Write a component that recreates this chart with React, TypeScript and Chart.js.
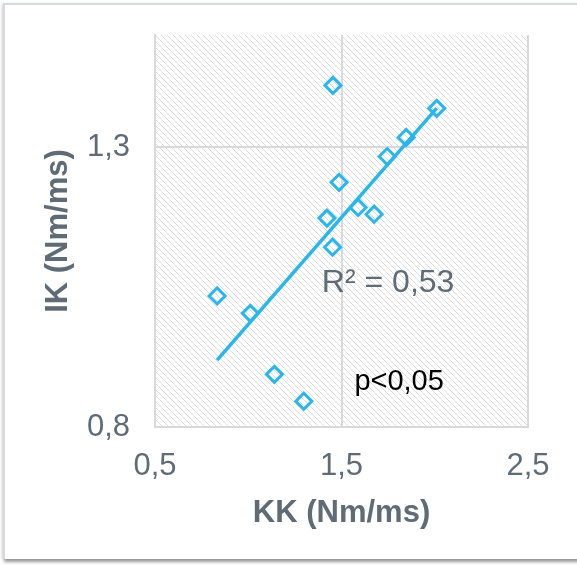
import React, { useEffect, useRef } from "react";
import { Chart, registerables } from "chart.js";
Chart.register(...registerables);

const kk = [1.454, 2.011, 1.847, 1.745, 1.487, 1.589, 1.675, 1.422, 1.452, 0.833, 1.011, 1.14, 1.298];
const ik = [1.41, 1.369, 1.317, 1.283, 1.237, 1.192, 1.18, 1.173, 1.121, 1.034, 1.003, 0.894, 0.846];
const xTicks = [0.5, 1.5, 2.5];
const yTicks = [0.8, 1.3];
const xTitle = "KK (Nm/ms)";
const yTitle = "IK (Nm/ms)";
const r2Label = "R² = 0,53";
const pLabel = "p<0,05";
const r2Pos = { x: 1.75, y: 1.057 };
const pPos = { x: 1.809, y: 0.88 };

const BLUE = "#29b6ea";
const GREY_TEXT = "#5f6b75";
const GRID = "#d9d9d9";
const FONT = "'Liberation Sans', Arial, sans-serif";

function regression(xs: number[], ys: number[]) {
  const n = xs.length;
  const mx = xs.reduce((a, b) => a + b, 0) / n;
  const my = ys.reduce((a, b) => a + b, 0) / n;
  let sxy = 0, sxx = 0;
  for (let i = 0; i < n; i++) {
    sxy += (xs[i] - mx) * (ys[i] - my);
    sxx += (xs[i] - mx) ** 2;
  }
  const b = sxy / sxx;
  return { a: my - b * mx, b };
}

const fmt = (v: number) => v.toFixed(1).replace(".", ",");

export default function App() {
  const ref = useRef<HTMLCanvasElement | null>(null);
  useEffect(() => {
    document.body.style.margin = "0";
    const canvas = ref.current!;
    const { a, b } = regression(kk, ik);
    const minX = Math.min(...kk);
    const maxX = Math.max(...kk);

    const tile = document.createElement("canvas");
    tile.width = 6;
    tile.height = 6;
    const tctx = tile.getContext("2d")!;
    tctx.fillStyle = "#ffffff";
    tctx.fillRect(0, 0, 6, 6);
    tctx.strokeStyle = "#dcdcdc";
    tctx.lineWidth = 1;
    tctx.beginPath();
    tctx.moveTo(-1, -1); tctx.lineTo(7, 7);
    tctx.moveTo(-1, 5); tctx.lineTo(1, 7);
    tctx.moveTo(5, -1); tctx.lineTo(7, 1);
    tctx.stroke();

    const hatchPlugin = {
      id: "hatch",
      beforeDraw(chart: any) {
        const { ctx, chartArea } = chart;
        const pat = ctx.createPattern(tile, "repeat");
        ctx.save();
        ctx.fillStyle = pat;
        ctx.fillRect(chartArea.left, chartArea.top, chartArea.right - chartArea.left, chartArea.bottom - chartArea.top);
        ctx.restore();
      },
    };
    const labelPlugin = {
      id: "labels",
      afterDraw(chart: any) {
        const { ctx, scales } = chart;
        ctx.save();
        ctx.textAlign = "center";
        ctx.textBaseline = "middle";
        ctx.fillStyle = GREY_TEXT;
        ctx.font = `32px ${FONT}`;
        ctx.fillText(r2Label, scales.x.getPixelForValue(r2Pos.x), scales.y.getPixelForValue(r2Pos.y));
        ctx.fillStyle = "#000000";
        ctx.font = `29px ${FONT}`;
        ctx.fillText(pLabel, scales.x.getPixelForValue(pPos.x), scales.y.getPixelForValue(pPos.y));
        ctx.restore();
      },
    };

    const chart = new Chart(canvas, {
      type: "scatter",
      data: {
        datasets: [
          {
            label: "trend",
            type: "line",
            data: [
              { x: minX, y: a + b * minX },
              { x: maxX, y: a + b * maxX },
            ],
            borderColor: BLUE,
            borderWidth: 3.5,
            pointRadius: 0,
            fill: false,
          } as any,
          {
            label: "IK",
            data: kk.map((x, i) => ({ x, y: ik[i] })),
            pointStyle: "rectRot",
            pointRadius: 8,
            pointBorderWidth: 3,
            borderColor: BLUE,
            backgroundColor: "rgba(0,0,0,0)",
          },
        ],
      },
      options: {
        animation: false,
        responsive: false,
        layout: { padding: { top: 35, right: 49, left: 0, bottom: 0 } },
        plugins: { legend: { display: false }, tooltip: { enabled: false } },
        scales: {
          x: {
            type: "linear",
            min: 0.5,
            max: 2.5,
            afterBuildTicks: (s: any) => { s.ticks = xTicks.map((v) => ({ value: v })); },
            afterFit: (s: any) => { s.height = 138; s.paddingLeft = 0; s.paddingRight = 0; },
            grid: { color: GRID, lineWidth: 2, drawTicks: false },
            border: { color: GRID, width: 2 },
            ticks: {
              padding: 21,
              color: GREY_TEXT,
              font: { size: 31, family: FONT },
              callback: (v: any) => fmt(Number(v)),
              maxRotation: 0,
            },
            title: {
              display: true,
              text: xTitle,
              color: GREY_TEXT,
              font: { size: 31, weight: "bold", family: FONT },
              padding: { top: 0, bottom: 33 },
            },
          },
          y: {
            type: "linear",
            min: 0.8,
            max: 1.5,
            afterBuildTicks: (s: any) => { s.ticks = yTicks.map((v) => ({ value: v })); },
            afterFit: (s: any) => { s.width = 155; s.paddingTop = 0; s.paddingBottom = 0; },
            grid: { color: GRID, lineWidth: 2, drawTicks: false },
            border: { color: GRID, width: 2 },
            ticks: {
              padding: 25,
              color: GREY_TEXT,
              font: { size: 31, family: FONT },
              callback: (v: any) => fmt(Number(v)),
            },
            title: {
              display: true,
              text: yTitle,
              color: GREY_TEXT,
              font: { size: 31, weight: "bold", family: FONT },
              padding: { top: 40, bottom: 0 },
            },
          },
        },
      },
      plugins: [hatchPlugin, labelPlugin],
    } as any);
    return () => chart.destroy();
  }, []);

  return (
    <div style={{ position: "absolute", left: 0, top: 0, width: 577, height: 565, overflow: "hidden", background: "#fff" }}>
      <div
        style={{
          position: "absolute",
          left: 3,
          top: 3,
          width: 590,
          height: 554,
          borderTop: "2px solid #d6dadd",
          borderLeft: "2px solid #d6dadd",
          boxShadow: "1px 3px 3px rgba(0,0,0,0.4), -2px 0px 2px rgba(0,0,0,0.08)",
          background: "#fff",
        }}
      />
      <canvas ref={ref} width={577} height={565} style={{ position: "absolute", left: 0, top: 0 }} />
    </div>
  );
}
